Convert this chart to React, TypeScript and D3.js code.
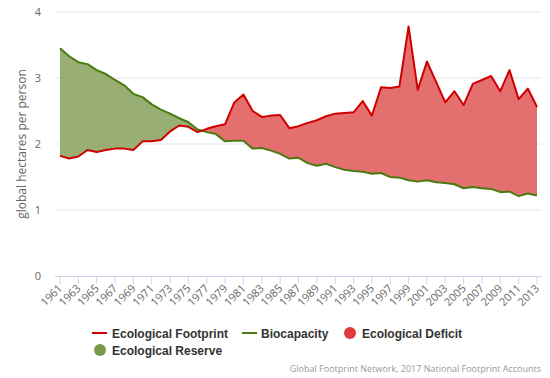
import React from "react";
import * as d3 from "d3";

const years: number[] = d3.range(1961, 2014);
const footprint: number[] = [
  1.82, 1.78, 1.81, 1.91, 1.88, 1.91, 1.93, 1.93, 1.91, 2.04,
  2.04, 2.06, 2.19, 2.28, 2.26, 2.18, 2.23, 2.27, 2.30, 2.63,
  2.75, 2.50, 2.41, 2.43, 2.44, 2.24, 2.27, 2.32, 2.36, 2.42,
  2.46, 2.47, 2.48, 2.65, 2.43, 2.86, 2.85, 2.87, 3.78, 2.82,
  3.25, 2.94, 2.63, 2.80, 2.59, 2.91, 2.97, 3.03, 2.80, 3.12,
  2.68, 2.84, 2.56,
];
const biocapacity: number[] = [
  3.45, 3.33, 3.24, 3.21, 3.12, 3.06, 2.97, 2.89, 2.76, 2.71,
  2.60, 2.52, 2.46, 2.39, 2.33, 2.22, 2.18, 2.15, 2.04, 2.05,
  2.05, 1.93, 1.94, 1.90, 1.85, 1.78, 1.79, 1.71, 1.67, 1.70,
  1.65, 1.61, 1.59, 1.58, 1.55, 1.56, 1.50, 1.49, 1.45, 1.43,
  1.45, 1.42, 1.41, 1.39, 1.33, 1.35, 1.33, 1.32, 1.27, 1.28,
  1.21, 1.25, 1.22,
];
const yTicks: number[] = [0, 1, 2, 3, 4];
const xTickYears: number[] = d3.range(1961, 2014, 2);

const FONT = "'Open Sans', 'DejaVu Sans', sans-serif";
const BOLD_FONT = "'Liberation Sans', Arial, sans-serif";

export default function App() {
  const W = 550, H = 378;
  const x = d3.scaleLinear().domain([1961, 2013]).range([60, 537]);
  const y = d3.scaleLinear().domain([0, 4]).range([276, 12]);
  const data = years.map((yr, i) => ({ yr, fp: footprint[i], bc: biocapacity[i] }));

  const between = d3.area<any>().x(d => x(d.yr)).y0(d => y(d.fp)).y1(d => y(d.bc))(data) || "";
  const belowBio = d3.area<any>().x(d => x(d.yr)).y0(y(0)).y1(d => y(d.bc))(data) || "";
  const belowFp = d3.area<any>().x(d => x(d.yr)).y0(y(0)).y1(d => y(d.fp))(data) || "";
  const fpLine = d3.line<any>().x(d => x(d.yr)).y(d => y(d.fp))(data) || "";
  const bcLine = d3.line<any>().x(d => x(d.yr)).y(d => y(d.bc))(data) || "";

  return (
    <svg width={W} height={H} style={{ position: "absolute", left: 0, top: 0, fontFamily: FONT }}>
      <rect width={W} height={H} fill="#fff" />
      <defs>
        <clipPath id="cBio"><path d={belowBio} /></clipPath>
        <clipPath id="cFp"><path d={belowFp} /></clipPath>
      </defs>
      {yTicks.slice(1).map(t => (
        <line key={t} x1={55} x2={542} y1={y(t)} y2={y(t)} stroke="#e6e6e6" strokeWidth={1} />
      ))}
      {yTicks.map(t => (
        <text key={t} x={41} y={y(t) + 4} textAnchor="end" fontSize={11} fill="#666">{t}</text>
      ))}
      <text transform={`translate(26,${(y(0) + y(4)) / 2}) rotate(-90)`} textAnchor="middle" fontSize={12} fill="#666">
        global hectares per person
      </text>
      <path d={between} fill="#98ae72" clipPath="url(#cBio)" />
      <path d={between} fill="#e36f6f" clipPath="url(#cFp)" />
      <path d={bcLine} fill="none" stroke="#4a7a10" strokeWidth={2} strokeLinejoin="round" />
      <path d={fpLine} fill="none" stroke="#d00000" strokeWidth={2} strokeLinejoin="round" />
      <line x1={55} x2={542} y1={y(0) + 0.5} y2={y(0) + 0.5} stroke="#ccd6eb" />
      {xTickYears.map(t => (
        <g key={t}>
          <line x1={x(t)} x2={x(t)} y1={y(0)} y2={y(0) + 8} stroke="#ccd6eb" />
          <text transform={`translate(${x(t) + 3},${y(0) + 13}) rotate(-45)`} textAnchor="end" fontSize={11} fill="#666">{t}</text>
        </g>
      ))}
      <g fontSize={12} fontWeight="bold" fill="#333" fontFamily={BOLD_FONT}>
        <line x1={92} x2={107} y1={333} y2={333} stroke="#d00000" strokeWidth={2} />
        <text x={112} y={337.5}>Ecological Footprint</text>
        <line x1={242} x2={257} y1={333} y2={333} stroke="#4a7a10" strokeWidth={2} />
        <text x={261} y={337.5}>Biocapacity</text>
        <circle cx={350} cy={333} r={6} fill="#e03a3a" />
        <text x={362} y={337.5}>Ecological Deficit</text>
        <circle cx={100} cy={350} r={6} fill="#7a9a48" />
        <text x={112} y={354.5}>Ecological Reserve</text>
      </g>
      <text x={541} y={372} textAnchor="end" fontSize={9} fill="#999">
        Global Footprint Network, 2017 National Footprint Accounts
      </text>
    </svg>
  );
}
